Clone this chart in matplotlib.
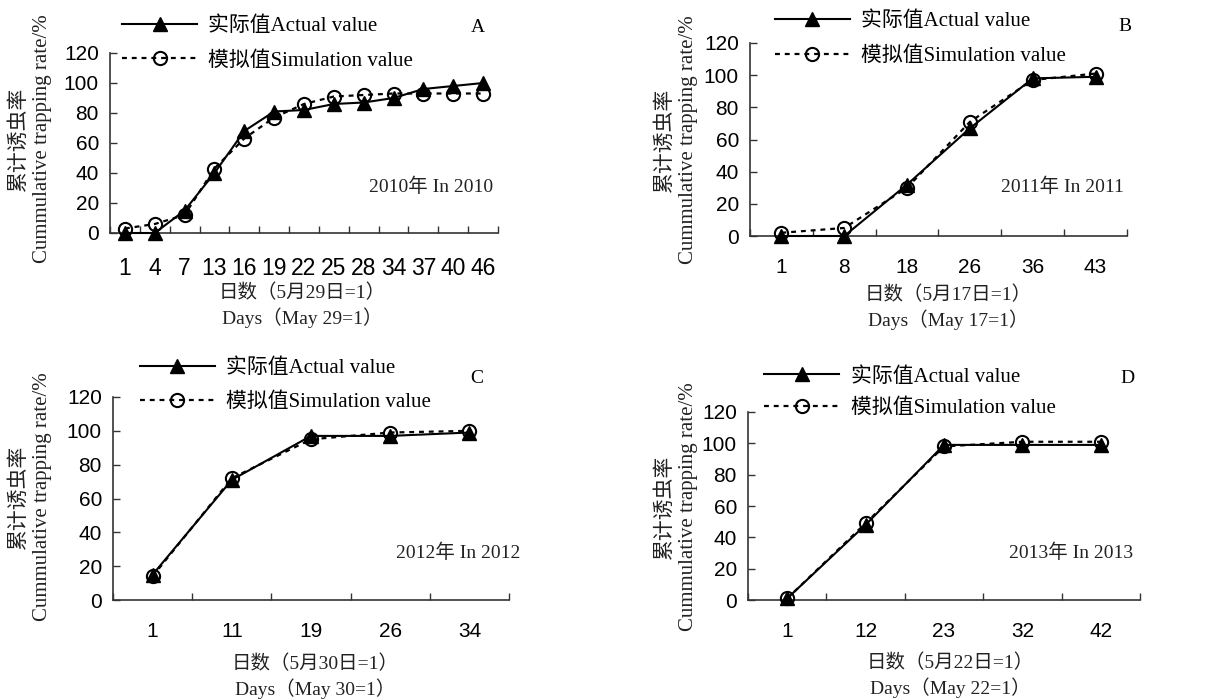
import numpy as np
import matplotlib
matplotlib.use("Agg")
import matplotlib.pyplot as plt
from matplotlib.ticker import FixedLocator, FixedFormatter

# ---------------- data ----------------
days_a = ["1", "4", "7", "13", "16", "19", "22", "25", "28", "34", "37", "40", "46"]
actual_a = [0, 0, 15, 40, 68, 81, 82, 86, 87, 90, 96, 98, 100]
sim_a = [3, 6, 12, 43, 63, 77, 86, 91, 92, 93, 93, 93, 93]

days_b = ["1", "8", "18", "26", "36", "43"]
actual_b = [0, 0, 32, 67, 98, 99]
sim_b = [2, 5, 30, 71, 97, 101]

days_c = ["1", "11", "19", "26", "34"]
actual_c = [15, 71, 97, 97, 99]
sim_c = [14, 72, 95, 99, 100]

days_d = ["1", "12", "23", "32", "42"]
actual_d = [1, 48, 99, 99, 99]
sim_d = [1, 49, 98, 101, 101]

y_ticks = [0, 20, 40, 60, 80, 100, 120]
legend_labels = ["实际值Actual value", "模拟值Simulation value"]
ylabel_text = "累计诱虫率\nCummulative trapping rate/%"
panel_letters = ["A", "B", "C", "D"]
year_notes = ["2010年 In 2010", "2011年 In 2011", "2012年 In 2012", "2013年 In 2013"]
xlabels = ["日数（5月29日=1）\nDays（May 29=1）",
           "日数（5月17日=1）\nDays（May 17=1）",
           "日数（5月30日=1）\nDays（May 30=1）",
           "日数（5月22日=1）\nDays（May 22=1）"]

SERIF = ["Liberation Serif", "Noto Sans CJK SC"]
SANS = ["Liberation Sans", "DejaVu Sans"]

W, H = 1213, 700
fig = plt.figure(figsize=(W / 100, H / 100), dpi=100)

# layout in pixels: left, right, top, bottom
boxes = [(110, 498, 53, 233), (750, 1127, 43, 236), (113, 509, 397, 600), (748, 1140, 412, 600)]
legend_anchor = [(0.031, 1.052), (0.066, 1.023), (0.068, 1.057), (0.041, 1.104)]
legend_spacing = [0.72, 0.74, 0.68, 0.56]
letter_pos = [(0.948, 1.144), (0.995, 1.083), (0.919, 1.089), (0.967, 1.176)]
note_pos = [(0.987, 0.256), (0.992, 0.254), (1.028, 0.232), (0.982, 0.25)]
xlabel_px = [(302, 306), (948, 308), (315, 677), (950, 676)]
ylabel_px = [(30.5, 139), (677, 140), (30.5, 497), (677, 507)]
xtick_size = [16.5, 15, 15, 15]
xtick_pad = [17, 16, 16, 16]

data = [(days_a, actual_a, sim_a), (days_b, actual_b, sim_b),
        (days_c, actual_c, sim_c), (days_d, actual_d, sim_d)]

axis_color = "#333333"

for i, ((l, r, t, b), (cats, act, sim)) in enumerate(zip(boxes, data)):
    ax = fig.add_axes([l / W, 1 - b / H, (r - l) / W, (b - t) / H])
    n = len(cats)
    x = np.arange(n)
    ax.plot(x, act, color="black", lw=1.5, marker="^", ms=9.5, mfc="black", mec="black",
            label=legend_labels[0], zorder=3, clip_on=False)
    ax.plot(x, sim, color="black", lw=1.6, ls=(0, (2.2, 2.2)), marker="o", ms=9.5,
            mfc="none", mec="black", mew=1.5, label=legend_labels[1], zorder=4, clip_on=False)

    ax.set_xlim(-0.5, n - 0.5)
    ax.set_ylim(0, 120)
    ax.xaxis.set_major_locator(FixedLocator(np.arange(n + 1) - 0.5))
    ax.xaxis.set_major_formatter(FixedFormatter([""] * (n + 1)))
    ax.xaxis.set_minor_locator(FixedLocator(x))
    ax.xaxis.set_minor_formatter(FixedFormatter(cats))
    ax.tick_params(axis="x", which="major", direction="in", length=5, width=1, color=axis_color)
    ax.tick_params(axis="x", which="minor", length=0, pad=xtick_pad[i], labelsize=xtick_size[i])
    ax.set_yticks(y_ticks)
    ax.tick_params(axis="y", direction="in", length=5, width=1, color=axis_color, labelsize=15, pad=8)
    for lab in ax.get_xticklabels(minor=True) + ax.get_yticklabels():
        lab.set_family(SANS)
    for s in ["top", "right"]:
        ax.spines[s].set_visible(False)
    for s in ["left", "bottom"]:
        ax.spines[s].set_color(axis_color)
        ax.spines[s].set_linewidth(1.2)

    ax.legend(loc="center left", bbox_to_anchor=legend_anchor[i], frameon=False,
              borderpad=0, borderaxespad=0, handlelength=3.6, handletextpad=0.55,
              labelspacing=legend_spacing[i], numpoints=1, prop={"family": SERIF, "size": 15})
    ax.text(*letter_pos[i], panel_letters[i], transform=ax.transAxes, ha="center", va="center",
            family=SERIF, fontsize=14)
    ax.text(*note_pos[i], year_notes[i], transform=ax.transAxes, ha="right", va="center",
            family=SERIF, fontsize=14, color="#222222")
    fig.text(xlabel_px[i][0] / W, 1 - xlabel_px[i][1] / H, xlabels[i], ha="center", va="center",
             family=SERIF, fontsize=14, linespacing=1.3, color="#222222")
    fig.text(ylabel_px[i][0] / W, 1 - ylabel_px[i][1] / H, ylabel_text, ha="center", va="center",
             rotation=90, family=SERIF, fontsize=15, linespacing=1.3, multialignment="center",
             color="#222222")

fig.savefig("out.png", dpi=100)
